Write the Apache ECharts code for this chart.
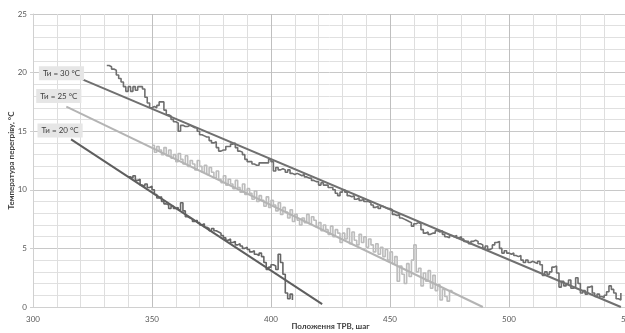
<!DOCTYPE html>
<html>
<head>
<meta charset="utf-8">
<script src="https://cdn.jsdelivr.net/npm/echarts@6/dist/echarts.min.js"></script>
<style>
    html, body { margin: 0; padding: 0; background: #fff; }
    #chart { width: 625px; height: 333px; }
</style>
</head>
<body>
<div id="chart"></div>
<script>
// Ти = 30 °C, заміри з кроком 1 від позиції 331
const start30 = 331;
const temp30 = [
    20.6, 20.5, 20.3, 20.2, 19.8, 19.5, 19.2, 18.8, 18.4, 18.8,
    18.4, 18.8, 18.5, 18.8, 18.8, 18.6, 17.9, 17.4, 17.0, 17.1,
    17.0, 17.2, 17.5, 17.5, 16.8, 16.4, 16.3, 16.0, 15.8, 15.7,
    15.0, 15.5, 15.4, 15.4, 15.5, 15.4, 15.3, 15.3, 15.0, 14.7,
    14.6, 14.5, 14.5, 14.2, 14.0, 14.1, 13.6, 13.3, 13.4, 13.4,
    13.7, 13.7, 13.9, 14.0, 13.6, 13.3, 13.2, 13.0, 12.6, 12.4,
    12.4, 12.2, 12.1, 12.1, 12.3, 12.3, 12.3, 12.3, 12.6, 12.4,
    11.6, 11.9, 11.7, 11.8, 11.7, 11.5, 11.7, 11.4, 11.3, 11.4,
    11.3, 11.2, 11.3, 11.1, 11.0, 11.0, 10.8, 10.7, 10.7, 10.4,
    10.6, 10.4, 10.4, 10.2, 10.2, 10.0, 9.7, 9.5, 9.8, 10.0,
    9.8, 9.5, 9.4, 9.5, 9.2, 9.3, 9.1, 9.2, 9.0, 9.0,
    8.9, 8.7, 8.5, 8.6, 8.4, 8.6, 8.5, 8.4, 8.4, 8.3,
    7.9, 7.8, 7.9, 7.6, 7.5, 7.4, 7.3, 7.2, 6.9, 7.1,
    7.2, 7.1, 6.6, 6.3, 6.4, 6.2, 6.3, 6.3, 6.5, 6.4,
    6.5, 6.2, 6.0, 5.9, 6.1, 6.0, 6.1, 5.9, 6.0, 5.8,
    5.6, 5.6, 5.4, 5.6, 5.7, 5.6, 5.4, 5.3, 5.0, 5.2,
    4.9, 5.0, 5.3, 5.5, 5.6, 5.0, 4.6, 4.8, 4.6, 4.5,
    4.6, 4.4, 4.3, 4.4, 4.0, 3.8, 4.0, 3.8, 3.9, 3.8,
    3.7, 3.9, 3.6, 2.7, 3.0, 2.8, 3.0, 3.4, 3.5, 2.9,
    1.7, 2.2, 1.8, 2.0, 2.3, 1.6, 1.7, 2.5, 2.0, 1.2,
    1.4, 1.1, 1.7, 1.8, 1.2, 0.9, 1.1, 0.9, 0.8, 1.0,
    1.3, 1.8, 1.5, 1.2, 0.7, 0.6, 1.2
];

// Ти = 25 °C, від позиції 350
const start25 = 350;
const temp25 = [
    13.8, 13.2, 13.7, 13.4, 13.0, 13.6, 12.9, 13.4, 12.7, 13.0,
    12.4, 13.1, 12.6, 12.2, 12.9, 12.0, 12.5, 12.2, 11.7, 12.5,
    12.0, 11.5, 12.1, 11.3, 11.9, 11.5, 11.0, 11.6, 10.9, 10.6,
    11.2, 10.4, 10.9, 10.5, 10.1, 10.8, 10.2, 9.8, 10.5, 9.6,
    10.1, 9.7, 9.2, 9.9, 9.0, 9.5, 9.1, 8.6, 9.4, 8.5,
    9.1, 8.7, 8.2, 8.9, 7.9, 8.5, 8.1, 7.6, 8.3, 7.3,
    7.9, 7.4, 7.0, 7.6, 7.2, 7.9, 7.1, 7.7, 7.4, 6.8,
    7.2, 6.5, 7.0, 6.6, 6.2, 6.9, 6.0, 6.6, 6.3, 5.5,
    6.3, 5.8, 6.7, 5.4, 6.4, 5.7, 5.3, 6.2, 5.5, 6.0,
    5.1, 5.8, 5.3, 4.7, 5.4, 4.5, 5.1, 4.3, 4.9, 4.0,
    4.7, 3.7, 4.3, 2.2, 3.5, 2.8, 2.0, 3.7, 2.6, 4.0,
    5.3, 3.0, 3.3, 1.8, 2.9, 2.2, 3.1, 1.6, 2.7, 1.4,
    1.9, 0.6, 1.5, 0.9, 0.5, 1.4, 1.2
];

// Ти = 20 °C, від позиції 340
const start20 = 340;
const temp20 = [
    11.1, 11.0, 11.2, 10.8, 10.9, 10.4, 10.3, 10.5, 10.2, 10.3,
    10.0, 9.6, 9.3, 9.4, 9.0, 8.8, 8.7, 8.4, 8.6, 8.4,
    8.5, 8.3, 8.9, 8.2, 7.7, 7.6, 7.5, 7.3, 7.4, 7.2,
    7.0, 7.1, 6.8, 6.7, 6.5, 6.7, 6.5, 6.4, 6.3, 6.1,
    5.9, 5.7, 5.8, 5.5, 5.6, 5.3, 5.4, 5.2, 5.0, 5.1,
    4.9, 4.7, 4.8, 4.5, 4.4, 4.6, 4.3, 3.8, 3.2, 3.4,
    3.6, 3.5, 3.2, 4.5, 3.8, 2.8, 1.2, 0.7, 1.1, 0.6
];

// лінії тренду: [позиція, температура]
const trend30 = [[321, 19.4], [547, 0]];
const trend25 = [[314, 17.1], [489, 0]];
const trend20 = [[316, 14.3], [421.5, 0.25]];

const trendNames = ['Ти = 30 °C', 'Ти = 25 °C', 'Ти = 20 °C'];

const FONT = 'Lato, "Liberation Sans", sans-serif';

const toPairs = (start, arr) => arr.map((v, i) => [start + i, v]);

const chart = echarts.init(document.getElementById('chart'), null, { renderer: 'canvas' });

const dataSeries = (name, start, arr, color) => ({
    name: name,
    type: 'line',
    step: 'end',
    symbol: 'none',
    data: toPairs(start, arr),
    lineStyle: { color: color, width: 1.6 },
    z: 3,
    animation: false
});

const trendSeries = (name, pts, color, offset) => ({
    name: name + ' trend',
    type: 'line',
    symbol: 'none',
    data: pts,
    lineStyle: { color: color, width: 2 },
    z: 4,
    animation: false,
    markPoint: {
        symbol: 'rect',
        symbolSize: 1,
        itemStyle: { color: 'rgba(0,0,0,0)' },
        z: 10,
        data: [{
            coord: pts[0],
            label: {
                show: true,
                position: 'inside',
                offset: offset,
                formatter: name,
                fontFamily: FONT,
                fontSize: 8,
                color: '#404040',
                backgroundColor: '#e6e6e6',
                padding: [3, 4, 3, 4]
            }
        }]
    }
});

const option = {
    backgroundColor: '#ffffff',
    animation: false,
    grid: { left: 33, right: -3, top: 14, bottom: 26, containLabel: false, outerBoundsMode: 'none' },
    xAxis: {
        type: 'value',
        min: 300,
        max: 550,
        interval: 50,
        name: 'Положення ТРВ, шаг',
        nameLocation: 'middle',
        nameGap: 15,
        nameMoveOverlap: false,
        nameTextStyle: { fontFamily: FONT, fontSize: 8, fontWeight: 'bold', color: '#404040' },
        axisLine: { show: true, lineStyle: { color: '#d0d0d0' } },
        axisTick: { show: false },
        axisLabel: { fontFamily: FONT, fontSize: 8, color: '#595959', margin: 8 },
        splitLine: { show: true, lineStyle: { color: '#bfbfbf', width: 1 } },
        minorTick: { show: false, splitNumber: 5 },
        minorSplitLine: { show: true, lineStyle: { color: '#dedede', width: 1 } }
    },
    yAxis: {
        type: 'value',
        min: 0,
        max: 25,
        interval: 5,
        name: 'Температура перегріву, °C',
        nameLocation: 'middle',
        nameGap: 18,
        nameMoveOverlap: false,
        nameTextStyle: { fontFamily: FONT, fontSize: 8, fontWeight: 'bold', color: '#404040' },
        axisLine: { show: true, lineStyle: { color: '#d0d0d0' } },
        axisTick: { show: true, length: 3, lineStyle: { color: '#d0d0d0' } },
        axisLabel: { fontFamily: FONT, fontSize: 8, color: '#595959', margin: 6 },
        splitLine: { show: true, lineStyle: { color: '#c8c8c8', width: 1 } },
        minorTick: { show: false, splitNumber: 5 },
        minorSplitLine: { show: true, lineStyle: { color: '#e0e0e0', width: 1 } }
    },
    series: [
        dataSeries('30', start30, temp30, '#6f6f6f'),
        dataSeries('25', start25, temp25, '#bcbcbc'),
        dataSeries('20', start20, temp20, '#666666'),
        trendSeries(trendNames[0], trend30, '#707070', [-21.5, -6.5]),
        trendSeries(trendNames[1], trend25, '#b4b4b4', [-7.5, -10.5]),
        trendSeries(trendNames[2], trend20, '#5e5e5e', [-11, -9])
    ]
};

chart.setOption(option);
</script>
</body>
</html>
